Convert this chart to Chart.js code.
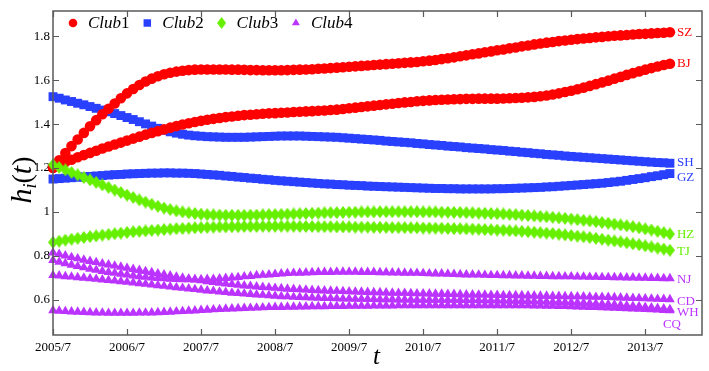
<!DOCTYPE html>
<html>
<head>
<meta charset="utf-8">
<script src="https://cdn.jsdelivr.net/npm/chart.js@4.4.1/dist/chart.umd.min.js"></script>
<style>
  html, body { margin: 0; padding: 0; background: #fff; }
  #wrap { width: 709px; height: 371px; }
</style>
</head>
<body>
<div id="wrap"><canvas id="chart"></canvas></div>
<script>
// x is month count from 2005/7, one point a month
var tickMonths = [0, 12, 24, 36, 48, 60, 72, 84, 96];
var tickLabels = ['2005/7', '2006/7', '2007/7', '2008/7', '2009/7', '2010/7', '2011/7', '2012/7', '2013/7'];
var yTicks = [0.6, 0.8, 1, 1.2, 1.4, 1.6, 1.8];

var clubs = ['Club1', 'Club2', 'Club3', 'Club4'];
var cities = ['SZ', 'BJ', 'SH', 'GZ', 'HZ', 'TJ', 'NJ', 'CD', 'WH', 'CQ'];
var cityClub = [0, 0, 1, 1, 2, 2, 3, 3, 3, 3];

var sz = [1.200, 1.235, 1.268, 1.300, 1.330, 1.360, 1.390, 1.418, 1.445, 1.470, 1.494, 1.518, 1.540,
  1.560, 1.578, 1.594, 1.607, 1.618, 1.627, 1.634, 1.639, 1.643, 1.646, 1.648, 1.649,
  1.649, 1.649, 1.649, 1.649, 1.648, 1.648, 1.647, 1.646, 1.646, 1.645, 1.645, 1.645,
  1.645, 1.646, 1.647, 1.648, 1.649, 1.650, 1.652, 1.653, 1.655, 1.657, 1.659, 1.661,
  1.663, 1.665, 1.667, 1.669, 1.671, 1.673, 1.675, 1.677, 1.679, 1.681, 1.683, 1.686,
  1.689, 1.692, 1.696, 1.700,
  1.704, 1.709, 1.713, 1.718, 1.722, 1.727, 1.731, 1.736, 1.740, 1.745, 1.749, 1.754,
  1.758, 1.763, 1.767, 1.771,
  1.774, 1.778, 1.781, 1.784, 1.787, 1.790, 1.792, 1.795, 1.797, 1.800, 1.802, 1.804,
  1.806, 1.808, 1.810, 1.811, 1.813, 1.815, 1.816, 1.818];
var bj = [1.205, 1.216, 1.227, 1.238, 1.249, 1.259, 1.269, 1.279, 1.289, 1.298, 1.307, 1.316, 1.325,
  1.334, 1.343, 1.352, 1.360, 1.368, 1.376, 1.384, 1.391, 1.398, 1.404, 1.410, 1.415,
  1.420, 1.424, 1.428, 1.432, 1.435, 1.438, 1.441, 1.443, 1.445, 1.447, 1.449, 1.450,
  1.452, 1.453, 1.455, 1.456, 1.458, 1.459, 1.461, 1.462, 1.464, 1.466, 1.469, 1.472,
  1.475, 1.478, 1.481, 1.484, 1.487, 1.490, 1.493, 1.496, 1.499, 1.501, 1.504, 1.506,
  1.508, 1.510, 1.511, 1.512, 1.513, 1.514, 1.515, 1.515, 1.516, 1.516, 1.516, 1.516,
  1.517, 1.518, 1.519, 1.520, 1.522, 1.524, 1.527, 1.530, 1.535, 1.540, 1.546, 1.552,
  1.559, 1.566, 1.574, 1.582, 1.590, 1.598, 1.607, 1.615, 1.624, 1.632, 1.640, 1.648,
  1.655, 1.662, 1.669, 1.675];
var sh = [1.525, 1.518, 1.510, 1.503, 1.495, 1.488, 1.480, 1.472, 1.464, 1.456, 1.448, 1.439, 1.430,
  1.421, 1.411, 1.401, 1.391, 1.381, 1.372, 1.365, 1.359, 1.354, 1.350, 1.347, 1.345,
  1.343, 1.342, 1.341, 1.340, 1.340, 1.340, 1.340, 1.341, 1.342, 1.343, 1.344, 1.345,
  1.346, 1.346, 1.346, 1.346, 1.345, 1.344, 1.343, 1.342, 1.341, 1.340, 1.338, 1.336,
  1.334, 1.332, 1.330, 1.328, 1.326, 1.323, 1.321, 1.319, 1.317, 1.315, 1.312, 1.310,
  1.307, 1.305, 1.303, 1.300, 1.298, 1.296, 1.293, 1.291, 1.289, 1.287, 1.284, 1.282,
  1.280, 1.277, 1.275, 1.272, 1.270, 1.267, 1.265, 1.262, 1.260, 1.258, 1.255, 1.253,
  1.251, 1.249, 1.247, 1.245, 1.243, 1.241, 1.239, 1.237, 1.235, 1.233, 1.231, 1.229,
  1.227, 1.225, 1.224, 1.222];
var gz = [1.150, 1.152, 1.154, 1.156, 1.158, 1.160, 1.162, 1.164, 1.166, 1.168, 1.170, 1.171, 1.173,
  1.174, 1.175, 1.176, 1.177, 1.177, 1.178, 1.178, 1.177, 1.177, 1.176, 1.175, 1.173,
  1.171, 1.169, 1.167, 1.164, 1.162, 1.159, 1.157, 1.154, 1.152, 1.149, 1.147, 1.144,
  1.142, 1.140, 1.138, 1.136, 1.134, 1.132, 1.130, 1.128, 1.127, 1.125, 1.124, 1.122,
  1.121, 1.120, 1.118, 1.117, 1.116, 1.115, 1.114, 1.113, 1.112, 1.111, 1.110, 1.109,
  1.108, 1.107, 1.107, 1.106, 1.106, 1.105, 1.105, 1.105, 1.105, 1.105, 1.105, 1.106,
  1.106, 1.107, 1.108, 1.109, 1.110, 1.111, 1.112, 1.114, 1.115, 1.117, 1.119, 1.121,
  1.123, 1.125, 1.127, 1.129, 1.131, 1.134, 1.137, 1.140, 1.144, 1.148, 1.152, 1.156,
  1.161, 1.165, 1.170, 1.175];
var hz = [1.215, 1.203, 1.192, 1.180, 1.169, 1.157, 1.146, 1.135, 1.123, 1.112, 1.100, 1.089, 1.077,
  1.066, 1.055, 1.045, 1.035, 1.026, 1.018, 1.011, 1.005, 1.000, 0.996, 0.993, 0.990,
  0.988, 0.987, 0.986, 0.985, 0.985, 0.985, 0.985, 0.986, 0.986, 0.987, 0.988, 0.988,
  0.989, 0.990, 0.991, 0.992, 0.993, 0.994, 0.995, 0.996, 0.997, 0.997, 0.998, 0.999,
  0.999, 1.000, 1.000, 1.000, 1.001, 1.001, 1.001, 1.001, 1.001, 1.001, 1.001, 1.000,
  1.000, 1.000, 0.999, 0.999, 0.998, 0.998, 0.997, 0.996, 0.995, 0.994, 0.993, 0.992,
  0.991, 0.989, 0.988, 0.986, 0.984, 0.982, 0.980, 0.978, 0.976, 0.973, 0.971, 0.968,
  0.965, 0.962, 0.959, 0.956, 0.952, 0.949, 0.945, 0.941, 0.937, 0.933, 0.928, 0.923,
  0.918, 0.912, 0.906, 0.900];
var tj = [0.862, 0.867, 0.872, 0.876, 0.880, 0.884, 0.888, 0.891, 0.895, 0.898, 0.901, 0.904, 0.907,
  0.910, 0.912, 0.914, 0.916, 0.918, 0.920, 0.922, 0.924, 0.925, 0.927, 0.928, 0.929,
  0.930, 0.931, 0.932, 0.932, 0.933, 0.933, 0.934, 0.934, 0.934, 0.935, 0.935, 0.935,
  0.935, 0.935, 0.935, 0.934, 0.934, 0.934, 0.933, 0.933, 0.933, 0.932, 0.932, 0.932,
  0.931, 0.931, 0.931, 0.930, 0.930, 0.930, 0.929, 0.929, 0.929, 0.928, 0.928, 0.927,
  0.927, 0.926, 0.926, 0.925, 0.924, 0.924, 0.923, 0.922, 0.921, 0.920, 0.919, 0.918,
  0.917, 0.915, 0.914, 0.912, 0.910, 0.908, 0.906, 0.904, 0.902, 0.899, 0.896, 0.893,
  0.890, 0.887, 0.884, 0.880, 0.876, 0.872, 0.868, 0.864, 0.860, 0.855, 0.851, 0.846,
  0.841, 0.836, 0.831, 0.826];
var nj = [0.780, 0.773, 0.766, 0.759, 0.753, 0.747, 0.741, 0.736, 0.731, 0.726, 0.722, 0.718, 0.714,
  0.710, 0.707, 0.704, 0.701, 0.699, 0.697, 0.695, 0.694, 0.693, 0.693, 0.693, 0.693,
  0.694, 0.695, 0.697, 0.699, 0.701, 0.703, 0.706, 0.708, 0.711, 0.713, 0.715, 0.717,
  0.719, 0.721, 0.722, 0.723, 0.724, 0.725, 0.726, 0.726, 0.726, 0.727, 0.727, 0.727,
  0.727, 0.726, 0.726, 0.726, 0.725, 0.725, 0.724, 0.724, 0.723, 0.722, 0.722, 0.721,
  0.720, 0.719, 0.719, 0.718, 0.717, 0.716, 0.715, 0.715, 0.714, 0.713, 0.712, 0.712,
  0.711, 0.711, 0.710, 0.710, 0.709, 0.709, 0.708, 0.708, 0.707, 0.707, 0.706, 0.706,
  0.705, 0.705, 0.704, 0.704, 0.703, 0.703, 0.702, 0.702, 0.701, 0.701, 0.700, 0.700,
  0.699, 0.699, 0.698, 0.698];
var cd = [0.815, 0.808, 0.801, 0.794, 0.788, 0.782, 0.776, 0.771, 0.765, 0.760, 0.755, 0.750, 0.745,
  0.740, 0.735, 0.730, 0.725, 0.720, 0.715, 0.710, 0.705, 0.700, 0.696, 0.692, 0.688,
  0.684, 0.680, 0.677, 0.674, 0.671, 0.668, 0.665, 0.663, 0.660, 0.658, 0.656, 0.654,
  0.652, 0.650, 0.649, 0.647, 0.646, 0.644, 0.643, 0.642, 0.641, 0.640, 0.639, 0.638,
  0.637, 0.636, 0.635, 0.634, 0.634, 0.633, 0.632, 0.631, 0.631, 0.630, 0.629, 0.629,
  0.628, 0.627, 0.627, 0.626, 0.626, 0.625, 0.624, 0.624, 0.623, 0.623, 0.622, 0.622,
  0.621, 0.621, 0.620, 0.620, 0.619, 0.619, 0.618, 0.618, 0.617, 0.617, 0.616, 0.616,
  0.615, 0.615, 0.614, 0.613, 0.613, 0.612, 0.611, 0.610, 0.609, 0.608, 0.607, 0.606,
  0.605, 0.604, 0.603, 0.602];
var wh = [0.712, 0.710, 0.707, 0.705, 0.702, 0.700, 0.697, 0.695, 0.692, 0.690, 0.687, 0.684, 0.681,
  0.678, 0.675, 0.672, 0.669, 0.666, 0.663, 0.660, 0.657, 0.654, 0.651, 0.648, 0.645,
  0.642, 0.640, 0.637, 0.635, 0.632, 0.630, 0.628, 0.626, 0.624, 0.622, 0.620, 0.618,
  0.616, 0.615, 0.613, 0.612, 0.611, 0.610, 0.609, 0.608, 0.607, 0.606, 0.605, 0.605,
  0.604, 0.604, 0.603, 0.603, 0.602, 0.602, 0.602, 0.601, 0.601, 0.601, 0.600, 0.600,
  0.600, 0.600, 0.599, 0.599, 0.599, 0.599, 0.598, 0.598, 0.598, 0.597, 0.597, 0.597,
  0.596, 0.596, 0.595, 0.595, 0.594, 0.593, 0.593, 0.592, 0.591, 0.590, 0.589, 0.588,
  0.587, 0.586, 0.584, 0.583, 0.581, 0.580, 0.578, 0.576, 0.574, 0.572, 0.570, 0.567,
  0.565, 0.562, 0.560, 0.557];
var cq = [0.552, 0.550, 0.548, 0.546, 0.545, 0.544, 0.543, 0.542, 0.541, 0.540, 0.540, 0.540, 0.540,
  0.540, 0.541, 0.541, 0.542, 0.543, 0.544, 0.545, 0.547, 0.548, 0.550, 0.551, 0.553,
  0.554, 0.556, 0.557, 0.559, 0.560, 0.561, 0.562, 0.563, 0.564, 0.565, 0.566, 0.567,
  0.567, 0.568, 0.568, 0.569, 0.569, 0.570, 0.570, 0.570, 0.571, 0.571, 0.571, 0.572,
  0.572, 0.572, 0.572, 0.573, 0.573, 0.573, 0.573, 0.574, 0.574, 0.574, 0.574, 0.575,
  0.575, 0.575, 0.575, 0.575, 0.575, 0.575, 0.575, 0.575, 0.575, 0.575, 0.575, 0.575,
  0.575, 0.574, 0.574, 0.574, 0.574, 0.573, 0.573, 0.572, 0.572, 0.571, 0.571, 0.570,
  0.569, 0.568, 0.567, 0.566, 0.565, 0.564, 0.563, 0.562, 0.561, 0.560, 0.559, 0.557,
  0.556, 0.555, 0.553, 0.552];

var series = [sz, bj, sh, gz, hz, tj, nj, cd, wh, cq];

// styles
var clubColors = ['#ff0000', '#2a40ff', '#66f000', '#bb33ff'];
var clubRadius = [5.3, 6.3, 6, 5.6];
var clubOrder = [2, 3, 1, 4];
// end label nudges (px)
var labelDx = [7, 7, 7, 7, 7, 7, 7, 7, 7, -7];
var labelDy = [0, 0, -1, 4, 1, 1, 1, 2, 3, 14];

var serif = "'Liberation Serif', 'DejaVu Serif', serif";

// narrow diamond marker like the original plot
function makeDiamond(w, h, color) {
    var c = document.createElement('canvas');
    c.width = w; c.height = h;
    var g = c.getContext('2d');
    g.fillStyle = color;
    g.beginPath();
    g.moveTo(w / 2, 0); g.lineTo(w, h / 2); g.lineTo(w / 2, h); g.lineTo(0, h / 2);
    g.closePath();
    g.fill();
    return c;
}
var diamond = makeDiamond(10, 13, clubColors[2]);
var diamondSmall = makeDiamond(9, 12, clubColors[2]);
var clubShapes = ['circle', 'rect', diamond, 'triangle'];

var datasets = series.map(function (vals, k) {
    var c = cityClub[k];
    return {
        label: cities[k],
        data: vals.map(function (v, i) { return { x: i, y: v }; }),
        showLine: false,
        pointStyle: clubShapes[c],
        pointRadius: clubRadius[c],
        pointBorderWidth: 0,
        pointBackgroundColor: clubColors[c],
        pointBorderColor: clubColors[c],
        order: clubOrder[c],
        clip: false
    };
});

function drawParts(ctx, parts, x, y) {
    // parts: [text, size, italic, dy]
    parts.forEach(function (p) {
        ctx.font = (p[2] ? 'italic ' : '') + p[1] + 'px ' + serif;
        ctx.fillText(p[0], x, y + p[3]);
        x += ctx.measureText(p[0]).width;
    });
}

function partsWidth(ctx, parts) {
    var w = 0;
    parts.forEach(function (p) {
        ctx.font = (p[2] ? 'italic ' : '') + p[1] + 'px ' + serif;
        w += ctx.measureText(p[0]).width;
    });
    return w;
}

var decor = {
    id: 'decor',
    afterDraw: function (chart) {
        var ctx = chart.ctx, a = chart.chartArea;
        var xs = chart.scales.x, ys = chart.scales.y;
        ctx.save();

        // frame + inward ticks
        ctx.strokeStyle = '#5a5a5a';
        ctx.lineWidth = 1.5;
        ctx.strokeRect(a.left, a.top, a.right - a.left, a.bottom - a.top);
        ctx.beginPath();
        tickMonths.forEach(function (m) {
            var px = Math.round(xs.getPixelForValue(m)) + 0.5;
            ctx.moveTo(px, a.bottom); ctx.lineTo(px, a.bottom - 6);
            ctx.moveTo(px, a.top); ctx.lineTo(px, a.top + 6);
        });
        yTicks.forEach(function (v) {
            var py = Math.round(ys.getPixelForValue(v)) + 0.5;
            ctx.moveTo(a.left, py); ctx.lineTo(a.left + 6, py);
            ctx.moveTo(a.right, py); ctx.lineTo(a.right - 6, py);
        });
        ctx.lineWidth = 1.2;
        ctx.stroke();

        // city names at line ends
        ctx.font = '13px ' + serif;
        ctx.textBaseline = 'middle';
        ctx.textAlign = 'left';
        series.forEach(function (vals, k) {
            var last = vals.length - 1;
            var px = xs.getPixelForValue(last) + labelDx[k];
            var py = ys.getPixelForValue(vals[last]) + labelDy[k];
            ctx.fillStyle = clubColors[cityClub[k]];
            ctx.fillText(cities[k], px, py);
        });

        // legend
        var lx = a.left + 20, ly = a.top + 12;
        clubs.forEach(function (name, k) {
            var cx = lx + k * 74.3;
            ctx.fillStyle = clubColors[k];
            var shape = k === 2 ? diamondSmall : clubShapes[k];
            Chart.helpers.drawPoint(ctx, {
                pointStyle: shape, radius: clubRadius[k] - 1, rotation: 0, borderWidth: 0
            }, cx, ly);
            ctx.fillStyle = '#000';
            ctx.textBaseline = 'middle';
            drawParts(ctx, [[name.slice(0, 4), 17, true, 1], [name.slice(4), 17, false, 1]], cx + 15, ly);
        });

        // axis titles
        ctx.fillStyle = '#000';
        ctx.textBaseline = 'alphabetic';
        var yParts = [['h', 30, true, 0], ['i', 18, true, 5], ['(', 28, false, 0], ['t', 30, true, 0], [')', 28, false, 0]];
        var w = partsWidth(ctx, yParts);
        ctx.save();
        ctx.translate(31, (a.top + a.bottom) / 2 + 7);
        ctx.rotate(-Math.PI / 2);
        drawParts(ctx, yParts, -w / 2, 0);
        ctx.restore();

        ctx.font = 'italic 25px ' + serif;
        ctx.textAlign = 'center';
        ctx.fillText('t', (a.left + a.right) / 2 - 1, 364);

        ctx.restore();
    }
};

var ctx = document.getElementById('chart');
new Chart(ctx, {
    type: 'scatter',
    data: { datasets: datasets },
    options: {
        responsive: true,
        maintainAspectRatio: false,
        animation: false,
        events: [],
        layout: { padding: { top: 11, right: 7, bottom: 0, left: 0 } },
        plugins: {
            legend: { display: false },
            tooltip: { enabled: false }
        },
        scales: {
            x: {
                type: 'linear',
                min: 0,
                max: 105.2,
                grid: { display: false, drawTicks: false },
                border: { display: false },
                afterBuildTicks: function (scale) {
                    scale.ticks = tickMonths.map(function (m) { return { value: m }; });
                },
                afterFit: function (scale) { scale.height = 36; },
                ticks: {
                    padding: 5,
                    color: '#000',
                    maxRotation: 0,
                    autoSkip: false,
                    font: { family: serif, size: 13 },
                    callback: function (v) {
                        var i = tickMonths.indexOf(v);
                        return i >= 0 ? tickLabels[i] : '';
                    }
                }
            },
            y: {
                min: 0.44,
                max: 1.915,
                grid: { display: false, drawTicks: false },
                border: { display: false },
                afterBuildTicks: function (scale) {
                    scale.ticks = yTicks.map(function (v) { return { value: v }; });
                },
                afterFit: function (scale) { scale.width = 53; },
                ticks: {
                    padding: 3,
                    color: '#000',
                    font: { family: serif, size: 13 },
                    callback: function (v) { return String(v); }
                }
            }
        }
    },
    plugins: [decor]
});
</script>
</body>
</html>
